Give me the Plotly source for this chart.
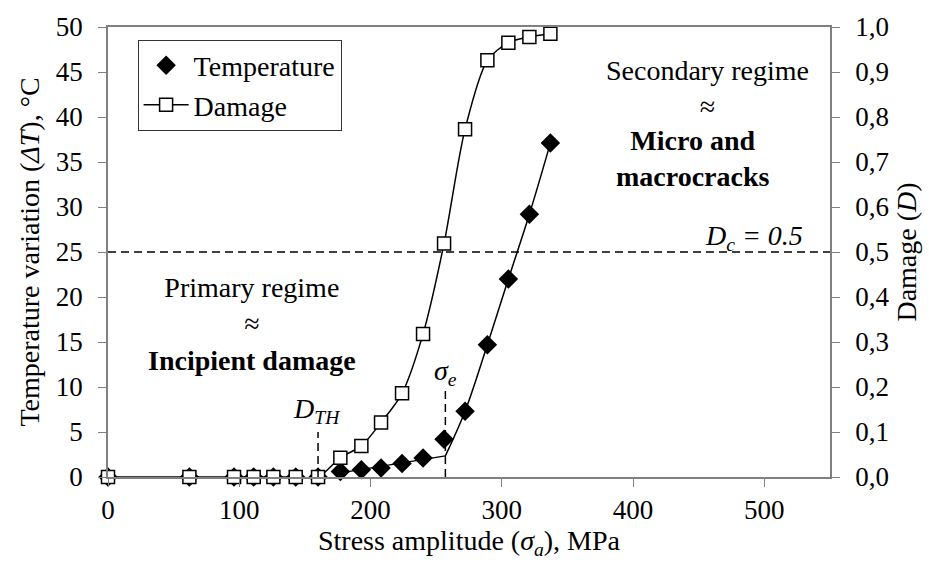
import numpy as np
import plotly.graph_objects as go

# ---- data ----
stress = [0, 62, 96, 111, 126, 143, 160, 177, 193, 208, 224, 240, 256, 272, 289, 305, 321, 337]
temperature = [0, 0, 0, 0, 0, 0, 0, 0.6, 0.8, 1.0, 1.5, 2.1, 4.2, 7.3, 14.7, 22.0, 29.2, 37.1]
damage = [0, 0, 0, 0, 0, 0, 0, 0.043, 0.069, 0.121, 0.186, 0.318, 0.519, 0.773, 0.926, 0.965,
          0.978, 0.985]
sigma_th = 160          # D_TH threshold stress
sigma_e = 257           # sigma_e (intersection of the two temperature trends)
d_critical = 0.5        # critical damage
x_ticks = [0, 100, 200, 300, 400, 500]
t_ticks = [0, 5, 10, 15, 20, 25, 30, 35, 40, 45, 50]
d_ticks = [0.0, 0.1, 0.2, 0.3, 0.4, 0.5, 0.6, 0.7, 0.8, 0.9, 1.0]
d_tick_labels = ["0,0", "0,1", "0,2", "0,3", "0,4", "0,5", "0,6", "0,7", "0,8", "0,9", "1,0"]

FONT = "Liberation Serif"
AXIS_COL = "#808080"

# trend lines of the temperature (primary and secondary regimes)
lo_idx = slice(7, 12)
coef = np.polyfit(stress[lo_idx], temperature[lo_idx], 1)
lo_x = [stress[7], sigma_e]
lo_y = list(np.polyval(coef, lo_x))
hi_x = [sigma_e] + stress[13:]
hi_y = [float(np.polyval(coef, sigma_e))] + temperature[13:]

fig = go.Figure()

fig.add_trace(go.Scatter(x=lo_x, y=lo_y, mode="lines", line=dict(color="black", width=1.5),
                         showlegend=False, hoverinfo="skip"))
fig.add_trace(go.Scatter(x=hi_x, y=hi_y, mode="lines", line=dict(color="black", width=1.5, shape="spline"),
                         showlegend=False, hoverinfo="skip"))
fig.add_trace(go.Scatter(x=stress, y=temperature, mode="markers", name="Temperature", cliponaxis=False,
                         marker=dict(symbol="diamond", size=15, color="black")))
fig.add_trace(go.Scatter(x=stress, y=damage, mode="lines+markers", name="Damage", yaxis="y2",
                         cliponaxis=False,
                         line=dict(color="black", width=1.5, shape="spline", smoothing=0.8),
                         marker=dict(symbol="square", size=13, color="white",
                                     line=dict(color="black", width=1.5))))

dash = "8px,5px"
fig.add_shape(type="line", xref="paper", yref="y2", x0=0, x1=1, y0=d_critical, y1=d_critical,
              line=dict(color="black", width=1.5, dash=dash))
fig.add_shape(type="line", xref="x", yref="y", x0=sigma_th, x1=sigma_th, y0=0, y1=5,
              line=dict(color="black", width=1.5, dash=dash))
fig.add_shape(type="line", xref="x", yref="y", x0=sigma_e, x1=sigma_e, y0=0, y1=10,
              line=dict(color="black", width=1.5, dash=dash))

ann_font = dict(family=FONT, size=28, color="black")
fig.add_annotation(x=110, y=17, xref="x", yref="y", showarrow=False, font=ann_font,
                   text="Primary regime<br>≈<br><b>Incipient damage</b>")
fig.add_annotation(x=456.7, y=43.2, xref="x", yref="y", showarrow=False, font=ann_font,
                   text="Secondary regime<br>≈")
fig.add_annotation(x=446, y=35.4, xref="x", yref="y", showarrow=False, font=ann_font,
                   text="<b>Micro and<br>macrocracks</b>")
fig.add_annotation(x=159.3, y=7.4, xref="x", yref="y", showarrow=False, font=ann_font,
                   text="<i>D</i><sub><i>TH</i></sub>")
fig.add_annotation(x=257, y=11.6, xref="x", yref="y", showarrow=False, font=ann_font,
                   text="<i>σ</i><sub><i>e</i></sub>")
fig.add_annotation(x=531, y=26.6, xref="x", yref="y", showarrow=False, xanchor="right", font=ann_font,
                   text="<i>D</i><sub><i>c</i></sub><i> = 0.5</i>")

tick_font = dict(family=FONT, size=27, color="black")
title_font = dict(family=FONT, size=28, color="black")

fig.update_layout(
    width=929, height=564,
    margin=dict(l=108, r=97, t=21, b=87),
    paper_bgcolor="white", plot_bgcolor="white",
    font=dict(family=FONT, color="black"),
    showlegend=True,
    legend=dict(x=0.041, y=0.972, xanchor="left", yanchor="top",
                bgcolor="white", bordercolor="#333333", borderwidth=1,
                font=dict(family=FONT, size=28, color="black"),
                itemwidth=45, tracegroupgap=0),
    xaxis=dict(range=[0, 550], tickvals=x_ticks, ticks="outside", ticklen=8, tickcolor=AXIS_COL,
               showline=True, linecolor=AXIS_COL, linewidth=1.5, mirror=True,
               showgrid=False, zeroline=False, tickfont=tick_font,
               title=dict(text="Stress amplitude (<i>σ<sub>a</sub></i>), MPa", font=title_font, standoff=6)),
    yaxis=dict(range=[0, 50], tickvals=t_ticks, ticks="outside", ticklen=8, tickcolor=AXIS_COL,
               showline=True, linecolor=AXIS_COL, linewidth=1.5,
               showgrid=False, zeroline=False, tickfont=tick_font, ticklabelstandoff=10,
               title=dict(text="Temperature variation (<i>ΔT</i>), °C", font=title_font, standoff=8)),
    yaxis2=dict(range=[0, 1], overlaying="y", side="right", tickvals=d_ticks, ticktext=d_tick_labels,
                ticks="outside", ticklen=8, tickcolor=AXIS_COL,
                showline=True, linecolor=AXIS_COL, linewidth=1.5,
                showgrid=False, zeroline=False, tickfont=tick_font, ticklabelstandoff=10,
                title=dict(text="Damage (<i>D</i>)", font=title_font, standoff=8)),
)

fig.write_html("out.html")
